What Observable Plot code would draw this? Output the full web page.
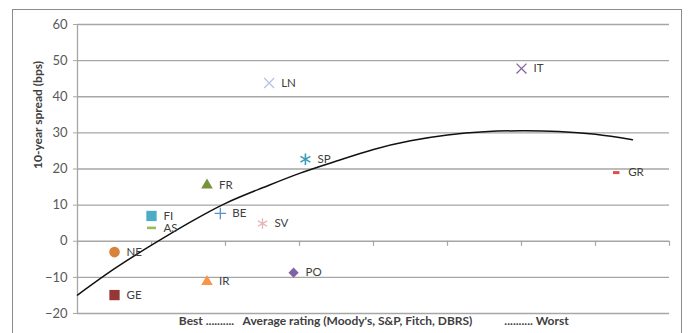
<!DOCTYPE html>
<html><head><meta charset="utf-8">
<script src="https://cdn.jsdelivr.net/npm/d3@7"></script>
<script src="https://cdn.jsdelivr.net/npm/@observablehq/plot@0.6"></script>
<style>
html,body{margin:0;padding:0;background:#fff;}
#wrap{position:relative;width:689px;height:333px;overflow:hidden;}
#border{position:absolute;left:12px;top:9px;width:670px;height:340px;border:1.5px solid #8c8c8c;box-sizing:border-box;}
#chart{position:absolute;left:0;top:0;}
</style></head><body>
<div id="wrap"><div id="border"></div><div id="chart"></div></div>
<script>
// ---- data ----
const countries = ["GE","NE","FI","AS","FR","IR","BE","SV","PO","LN","SP","IT","GR"];
const rating    = [0.5, 0.5, 1.0, 1.0, 1.75, 1.75, 1.93, 2.5, 2.92, 2.59, 3.08, 6.0, 7.28];
const spread    = [-14.9, -3.0, 7.0, 3.7, 15.5, -11.2, 7.7, 4.9, -8.7, 43.8, 22.7, 47.8, 19.0];
const markers   = ["square","circle","square","dash","triangle","triangle","plus","asterisk","diamond","times","asterisk","times","dash"];
const colors    = ["#953735","#d9823b","#4bacc6","#9bbb59","#77933c","#f79646","#5b8fd0","#e8b4b4","#8064a2","#b8c4e4","#3d9db5","#8064a2","#e04b4b"];
const trendX = [0, 0.5, 1, 1.5, 2, 2.5, 3, 3.5, 4, 4.5, 5, 5.5, 6, 6.5, 7, 7.5];
const trendY = [-14.9, -7.6, -1.1, 5.0, 10.5, 14.8, 18.8, 22.2, 25.4, 27.8, 29.4, 30.3, 30.6, 30.4, 29.6, 28.1];
const yTicks = [-20, -10, 0, 10, 20, 30, 40, 50, 60];
const xTicks = [0, 1, 2, 3, 4, 5, 6, 7, 8];
const yLabel = "10-year spread (bps)";
const xLabelParts = ["Best ..........", "Average rating (Moody's, S&P, Fitch, DBRS)", ".......... Worst"];

// ---- build ----
const dash = {draw(ctx, size) { const w = Math.sqrt(size / Math.PI); ctx.moveTo(-w, 0); ctx.lineTo(w, 0); }};
const markerStyle = {
  square:   {sym: "square",   r: 5.8, filled: true},
  circle:   {sym: "circle",   r: 5.3, filled: true},
  triangle: {sym: "triangle", r: 4.3, filled: true},
  diamond:  {sym: "diamond2", r: 4.6, filled: true},
  plus:     {sym: "plus",     r: 3.8, filled: false, sw: 1.3},
  times:    {sym: "times",    r: 4.6, filled: false, sw: 1.3},
  asterisk: {sym: "asterisk", r: 5.0, filled: false, sw: 1.3},
  dash:     {sym: dash,       r: 4.5, filled: false, sw: 2.6}
};
const rows = countries.map((c, i) => ({name: c, x: rating[i], y: spread[i], m: markerStyle[markers[i]], color: colors[i]}));
rows.find(d => d.name === "GR").m = {...markerStyle.dash, r: 3.2, sw: 3};
rows.find(d => d.name === "SP").m = {...markerStyle.asterisk, r: 5.4, sw: 1.6};
const trend = trendX.map((x, i) => ({x, y: trendY[i]}));

const grid = "#a6a6a6";
const chart = Plot.plot({
  width: 689, height: 333,
  marginLeft: 77, marginRight: 20, marginTop: 24, marginBottom: 20,
  style: {fontFamily: "Lato, 'Open Sans', sans-serif", fontSize: "12px", color: "#595959", background: "transparent"},
  x: {domain: [0, 8], axis: null},
  y: {domain: [-20, 60], axis: null},
  r: {type: "identity"},
  marks: [
    Plot.ruleY(yTicks, {stroke: grid, strokeWidth: 1.3}),
    Plot.ruleX([0], {stroke: grid, strokeWidth: 1.3}),
    Plot.ruleX(xTicks, {x: d => d, y1: 0, y2: 0, insetBottom: -5, stroke: grid, strokeWidth: 1.2}),
    Plot.axisY(yTicks, {tickSize: 4, tickPadding: 6, stroke: grid, fill: "#595959", fontSize: 13, label: null}),
    Plot.line(trend, {x: "x", y: "y", curve: "natural", stroke: "#111", strokeWidth: 1.5}),
    Plot.dot(rows.filter(d => d.m.filled), {x: "x", y: "y", symbol: d => d.m.sym, r: d => d.m.r, fill: "color", stroke: "none"}),
    Plot.dot(rows.filter(d => !d.m.filled), {x: "x", y: "y", symbol: d => d.m.sym, r: d => d.m.r, stroke: "color", strokeWidth: d => d.m.sw, fill: "none"}),
    Plot.text(rows, {x: "x", y: "y", text: "name", textAnchor: "start", dx: 12, fill: "#404040", fontSize: 11.5}),
    Plot.text([yLabel], {frameAnchor: "left", rotate: -90, dx: -39, fontWeight: "bold", fill: "#404040", fontSize: 12}),
    Plot.text([xLabelParts[0]], {frameAnchor: "bottom", dx: -167, dy: 11, fontWeight: "bold", fill: "#404040", fontSize: 12}),
    Plot.text([xLabelParts[1]], {frameAnchor: "bottom", dx: -16, dy: 11, fontWeight: "bold", fill: "#404040", fontSize: 12}),
    Plot.text([xLabelParts[2]], {frameAnchor: "bottom", dx: 163, dy: 11, fontWeight: "bold", fill: "#404040", fontSize: 12})
  ]
});
document.getElementById("chart").appendChild(chart);
</script>
</body></html>
